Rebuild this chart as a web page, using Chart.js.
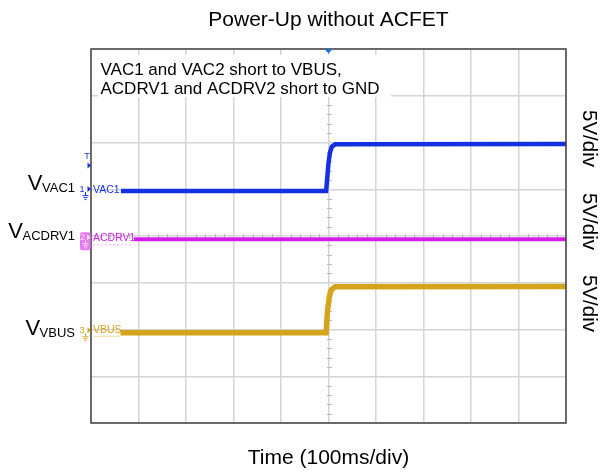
<!DOCTYPE html>
<html>
<head>
<meta charset="utf-8">
<script src="https://cdn.jsdelivr.net/npm/chart.js@4"></script>
<style>
  body { margin: 0; background: #fff; }
  canvas { display: block; }
</style>
</head>
<body>
<canvas id="scope" width="601" height="473"></canvas>
<script>
// time in ms (100 ms/div), level in volts (5 V/div)
const vac1Time = [63, 495, 497, 500, 503, 507, 514, 1000];
const vac1Volts = [0, 0, 1.2, 3.0, 4.1, 4.75, 5.0, 5.05];

const acdrv1Time = [90, 1000];
const acdrv1Volts = [0, 0];

const vbusTime = [62, 495, 498, 502, 506, 514, 1000];
const vbusVolts = [0, 0, 2.4, 3.9, 4.6, 4.93, 4.95];

const voltsPerDiv = 5;
// ground position of each channel, in divisions from the bottom
const vac1Ground = 4.96;
const acdrv1Ground = 3.93;
const vbusGround = 1.93;

const FONT = '"Liberation Sans", Arial, sans-serif';
Chart.defaults.font.family = FONT;

function toPoints(times, volts, ground) {
    return times.map((t, i) => ({ x: t, y: ground + volts[i] / voltsPerDiv }));
}

function groundSymbol(ctx, x, y, color) {
    ctx.strokeStyle = color;
    ctx.lineWidth = 1;
    ctx.beginPath();
    ctx.moveTo(x, y); ctx.lineTo(x, y + 3);
    ctx.moveTo(x - 3, y + 3.5); ctx.lineTo(x + 3, y + 3.5);
    ctx.moveTo(x - 2, y + 5.5); ctx.lineTo(x + 2, y + 5.5);
    ctx.moveTo(x - 1, y + 7.5); ctx.lineTo(x + 1, y + 7.5);
    ctx.stroke();
}

function arrowRight(ctx, x, y, color) {
    ctx.fillStyle = color;
    ctx.beginPath();
    ctx.moveTo(x, y - 3); ctx.lineTo(x + 3.5, y); ctx.lineTo(x, y + 3);
    ctx.closePath();
    ctx.fill();
}

function subscriptLabel(ctx, main, sub, right, base) {
    ctx.fillStyle = '#000';
    ctx.textAlign = 'right';
    ctx.textBaseline = 'alphabetic';
    ctx.font = '13px ' + FONT;
    const w = ctx.measureText(sub).width;
    ctx.fillText(sub, right, base + 2);
    ctx.font = '22px ' + FONT;
    ctx.fillText(main, right - w + 0.5, base);
}

const scopeDecor = {
    id: 'scopeDecor',
    beforeDatasetsDraw(chart) {
        const { ctx, scales: { x, y } } = chart;
        ctx.save();
        // minor ticks on the centre cross
        ctx.strokeStyle = '#b8b8b8';
        ctx.lineWidth = 1;
        const cx = Math.round(x.getPixelForValue(500)) + 0.5;
        const cy = Math.round(y.getPixelForValue(4)) + 0.5;
        ctx.beginPath();
        for (let i = 1; i < 50; i++) {
            if (i % 5 === 0) continue;
            const px = Math.round(x.getPixelForValue(i * 20)) + 0.5;
            ctx.moveTo(px, cy - 2.5); ctx.lineTo(px, cy + 2.5);
        }
        for (let j = 1; j < 40; j++) {
            if (j % 5 === 0) continue;
            const py = Math.round(y.getPixelForValue(j * 0.2)) + 0.5;
            ctx.moveTo(cx - 2.5, py); ctx.lineTo(cx + 2.5, py);
        }
        ctx.stroke();

        // note box
        ctx.fillStyle = '#fff';
        ctx.fillRect(98, 55, 293, 42);
        ctx.fillStyle = '#000';
        ctx.font = '17px ' + FONT;
        ctx.textAlign = 'left';
        ctx.textBaseline = 'alphabetic';
        ctx.fillText('VAC1 and VAC2 short to VBUS,', 100.5, 74.5);
        ctx.fillText('ACDRV1 and ACDRV2 short to GND', 100.5, 94);
        ctx.restore();
    },
    afterDatasetsDraw(chart) {
        const { ctx, chartArea: a, scales: { x, y } } = chart;
        ctx.save();

        // frame
        ctx.strokeStyle = '#444';
        ctx.lineWidth = 1.5;
        ctx.strokeRect(a.left, a.top, a.right - a.left, a.bottom - a.top);

        // trigger marker
        const tx = x.getPixelForValue(500);
        ctx.fillStyle = '#1a6fe0';
        ctx.beginPath();
        ctx.moveTo(tx - 4, a.top); ctx.lineTo(tx + 4, a.top); ctx.lineTo(tx, a.top + 4.5);
        ctx.closePath();
        ctx.fill();

        // trigger level marker
        ctx.fillStyle = '#1530e0';
        ctx.font = '9px ' + FONT;
        ctx.textAlign = 'center';
        ctx.textBaseline = 'middle';
        ctx.fillText('T', 87, 157);
        arrowRight(ctx, 87.5, 165.5, '#1530e0');

        // channel markers on the left edge
        const blue = '#1530e0', magenta = '#d21ee8', gold = '#d6a41a';
        const y1 = y.getPixelForValue(vac1Ground);
        const y2 = y.getPixelForValue(acdrv1Ground);
        const y3 = y.getPixelForValue(vbusGround);

        ctx.font = '9px ' + FONT;
        ctx.fillStyle = blue;
        ctx.fillText('1', 82, y1 - 1.5);
        arrowRight(ctx, 87.5, y1 - 2, blue);
        groundSymbol(ctx, 85.5, y1 + 1, blue);

        ctx.fillStyle = '#e67cf2';
        ctx.beginPath();
        ctx.roundRect(80, y2 - 7, 10.5, 18, 2);
        ctx.fill();
        ctx.fillStyle = '#fbe0fd';
        ctx.fillText('2', 82.5, y2 - 1.5);
        arrowRight(ctx, 87, y2 - 2, '#fbe0fd');
        groundSymbol(ctx, 85.5, y2 + 1, '#fbe0fd');

        ctx.fillStyle = gold;
        ctx.fillText('3', 82, y3 - 2);
        arrowRight(ctx, 87.5, y3 - 2.5, gold);
        groundSymbol(ctx, 85.5, y3 + 0.5, gold);

        // channel names inside the screen
        ctx.font = '10.5px ' + FONT;
        ctx.textAlign = 'left';
        ctx.fillStyle = blue;
        ctx.fillText('VAC1', 93, y1 - 1.5);
        ctx.fillStyle = magenta;
        ctx.fillText('ACDRV1', 93, y2 - 1);
        ctx.fillStyle = gold;
        ctx.fillText('VBUS', 93, y3 - 2.5);

        ctx.strokeStyle = 'rgba(210,30,232,0.35)';
        ctx.setLineDash([2, 2]);
        ctx.lineWidth = 1;
        ctx.beginPath();
        ctx.moveTo(93, y2 + 5.5); ctx.lineTo(133, y2 + 5.5);
        ctx.stroke();
        ctx.strokeStyle = 'rgba(214,164,26,0.4)';
        ctx.setLineDash([]);
        ctx.beginPath();
        ctx.moveTo(93, y3 + 3.5); ctx.lineTo(120, y3 + 3.5);
        ctx.stroke();

        // signal names on the left
        subscriptLabel(ctx, 'V', 'VAC1', 75, 189.5);
        subscriptLabel(ctx, 'V', 'ACDRV1', 75, 237.5);
        subscriptLabel(ctx, 'V', 'VBUS', 75, 334.5);

        // vertical scale labels on the right
        ctx.fillStyle = '#000';
        ctx.font = '20.5px ' + FONT;
        ctx.textAlign = 'center';
        ctx.textBaseline = 'alphabetic';
        [138.5, 221.5, 303.5].forEach(cyy => {
            ctx.save();
            ctx.translate(583, cyy);
            ctx.rotate(Math.PI / 2);
            ctx.fillText('5V/div', 0, 0);
            ctx.restore();
        });

        ctx.restore();
    }
};

const gridStyle = { color: '#d4d4d4', lineWidth: 1.5, drawTicks: false };

const scope = new Chart(document.getElementById('scope').getContext('2d'), {
    type: 'line',
    data: {
        datasets: [
            {
                label: 'VAC1',
                data: toPoints(vac1Time, vac1Volts, vac1Ground),
                borderColor: '#1530e0',
                borderWidth: 4.5
            },
            {
                label: 'ACDRV1',
                data: toPoints(acdrv1Time, acdrv1Volts, acdrv1Ground),
                borderColor: '#d21ee8',
                borderWidth: 4
            },
            {
                label: 'VBUS',
                data: toPoints(vbusTime, vbusVolts, vbusGround),
                borderColor: '#d6a41a',
                borderWidth: 5.5
            }
        ]
    },
    options: {
        responsive: false,
        animation: false,
        elements: {
            point: { radius: 0 },
            line: { tension: 0, borderCapStyle: 'butt' }
        },
        layout: { padding: { left: 91, right: 35, top: 0, bottom: 0 } },
        plugins: {
            legend: { display: false },
            tooltip: { enabled: false },
            title: {
                display: true,
                text: 'Power-Up without ACFET',
                color: '#000',
                font: { size: 21, weight: 'normal' },
                padding: { top: 8, bottom: 15.8 }
            }
        },
        scales: {
            x: {
                type: 'linear',
                min: 0,
                max: 1000,
                ticks: { display: false, stepSize: 100 },
                grid: gridStyle,
                border: { display: false },
                title: {
                    display: true,
                    text: 'Time (100ms/div)',
                    color: '#000',
                    font: { size: 21 },
                    padding: { top: 22.5, bottom: 2.3 }
                }
            },
            y: {
                min: 0,
                max: 8,
                ticks: { display: false, stepSize: 1 },
                grid: gridStyle,
                border: { display: false }
            }
        }
    },
    plugins: [scopeDecor]
});
</script>
</body>
</html>
